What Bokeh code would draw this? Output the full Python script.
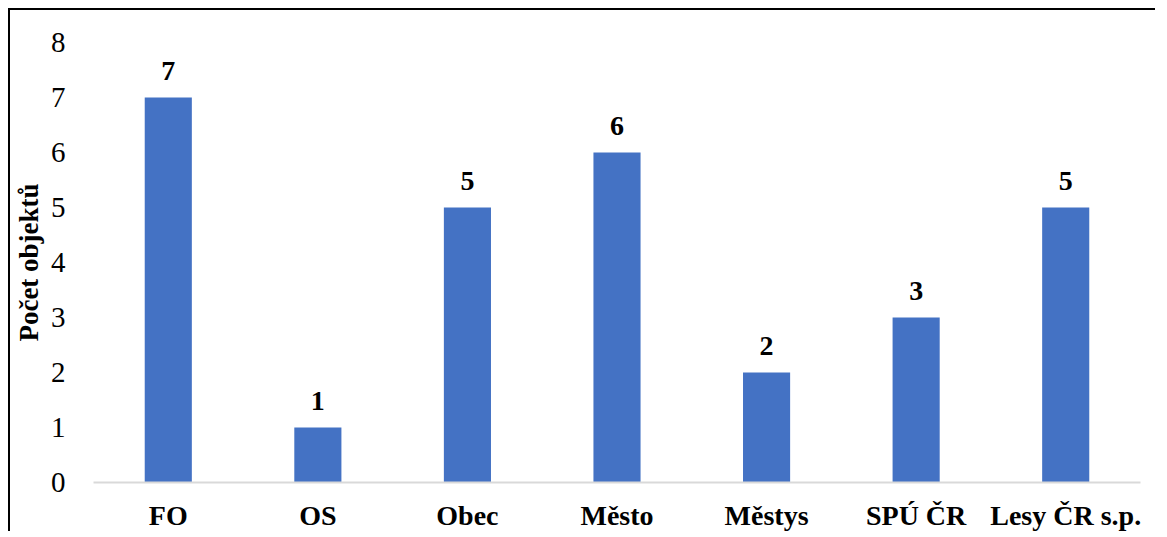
from bokeh.plotting import figure
from bokeh.models import ColumnDataSource, LabelSet
from bokeh.embed import file_html
from bokeh.resources import INLINE
from bokeh.core.properties import value

categories = ["FO", "OS", "Obec", "Město", "Městys", "SPÚ ČR", "Lesy ČR s.p."]
counts = [7, 1, 5, 6, 2, 3, 5]
y_ticks = [0, 1, 2, 3, 4, 5, 6, 7, 8]

src = ColumnDataSource(dict(cat=categories, val=counts, lab=[str(v) for v in counts]))

p = figure(x_range=categories, y_range=(0, 8), width=1147, height=523,
           output_backend="svg", toolbar_location=None,
           min_border_left=83, min_border_right=17, min_border_top=32, min_border_bottom=47)
p.styles = {"border-left": "2px solid black", "border-top": "2px solid black",
            "margin-left": "8px", "margin-top": "8px"}

p.vbar(x="cat", top="val", width=0.315, source=src, color="#4472C4", line_color=None)

labels = LabelSet(x="cat", y="val", text="lab", source=src, text_align="center",
                  text_baseline="bottom", y_offset=18, text_font=value("Liberation Serif"),
                  text_font_style="bold", text_font_size="28px", text_color="black")
p.add_layout(labels)

p.outline_line_color = None
p.xgrid.grid_line_color = None
p.ygrid.grid_line_color = None

p.yaxis.ticker = y_ticks
p.yaxis.axis_line_color = None
p.yaxis.major_tick_line_color = None
p.yaxis.minor_tick_line_color = None
p.yaxis.major_label_text_font = "Liberation Serif"
p.yaxis.major_label_text_font_size = "29px"
p.yaxis.major_label_text_color = "black"
p.yaxis.major_label_standoff = 22
p.yaxis.axis_label = "Počet objektů"
p.yaxis.axis_label_text_font = "Liberation Serif"
p.yaxis.axis_label_text_font_style = "bold"
p.yaxis.axis_label_text_font_size = "27px"
p.yaxis.axis_label_text_color = "black"
p.yaxis.axis_label_standoff = 4

p.xaxis.axis_line_color = "#d9d9d9"
p.xaxis.axis_line_width = 2
p.xaxis.major_tick_line_color = None
p.xaxis.minor_tick_line_color = None
p.xaxis.major_label_text_font = "Liberation Serif"
p.xaxis.major_label_text_font_style = "bold"
p.xaxis.major_label_text_font_size = "28px"
p.xaxis.major_label_text_color = "black"
p.xaxis.major_label_standoff = 11

open("out.html", "w").write(file_html(p, INLINE))
